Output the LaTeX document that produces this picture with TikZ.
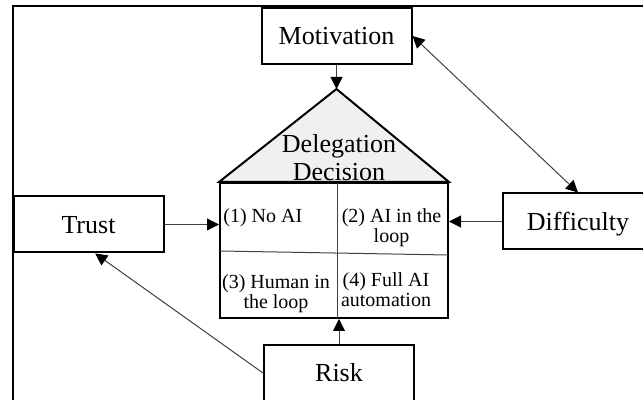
\documentclass[tikz,border=0pt]{standalone}
\usepackage{fontspec}
\setmainfont{Liberation Serif}
\usetikzlibrary{arrows.meta}
\usepackage{xcolor}
\definecolor{lineGray}{RGB}{64,64,64}
\definecolor{roofGray}{RGB}{240,240,240}

\tikzset{
    box/.style={draw, line width=1pt, minimum width=75pt, minimum height=28pt,
        font=\fontsize{13}{14}\selectfont, text height=8.6pt, text depth=0pt},
    cell/.style={inner sep=0pt, align=center, font=\fontsize{10}{10.2}\selectfont},
    conn/.style={draw=lineGray, line width=0.5pt,
        -{Triangle[length=6pt, width=6pt, color=black]}},
    both/.style={conn,
        {Triangle[length=6pt, width=6pt, color=black]}-{Triangle[length=6pt, width=6pt, color=black]}},
}

\begin{document}
\begin{tikzpicture}[x=0.5pt, y=-0.5pt]
    \useasboundingbox (0,0) rectangle (643,400);
    \clip (0,0) rectangle (643,400);

    % frame
    \draw[line width=1pt] (13,402) -- (13,6) -- (645,6);

    % factors
    \node[box] (motivation) at (336.5,36) {Motivation};
    \node[box] (trust) at (88.5,224.5) {Trust};
    \node[box] (difficulty) at (578,221.5) {Difficulty};
    \node[box] (risk) at (339,373) {Risk};

    % decision house
    \node[draw, line width=1pt, minimum width=114pt, minimum height=67.5pt,
        inner sep=0pt] (grid) at (334,250.5) {};
    \coordinate (apex) at (336.5,89);
    \filldraw[fill=roofGray, line width=1pt, line join=miter]
        (grid.north west) -- (apex) -- (grid.north east) -- cycle;
    \draw[lineGray, line width=0.5pt] (337,183) -- (337,318);
    \draw[lineGray, line width=0.5pt] (220,251) -- (448,255);

    \node[cell, font=\fontsize{13}{14}\selectfont] (decision) at (339,157.8) {Delegation\\Decision};
    \node[cell, anchor=west] (noai) at (223,218) {(1) No AI};
    \node[cell] (inloop) at (391.5,227.5) {(2) AI in the\\loop};
    \node[cell] (human) at (276,293.5) {(3) Human in\\the loop};
    \node[cell] (full) at (386,289.5) {(4) Full AI\\automation};

    % influences
    \draw[conn] (motivation.south) -- (apex);
    \draw[both] (motivation.east) -- (difficulty.north);
    \draw[conn] (trust.east) -- (trust.east -| grid.west);
    \draw[conn] (difficulty.west) -- (difficulty.west -| grid.east);
    \draw[conn] (risk.north) -- (risk.north |- grid.south);
    \draw[conn] (risk.west) -- (trust.-77);
\end{tikzpicture}
\end{document}
